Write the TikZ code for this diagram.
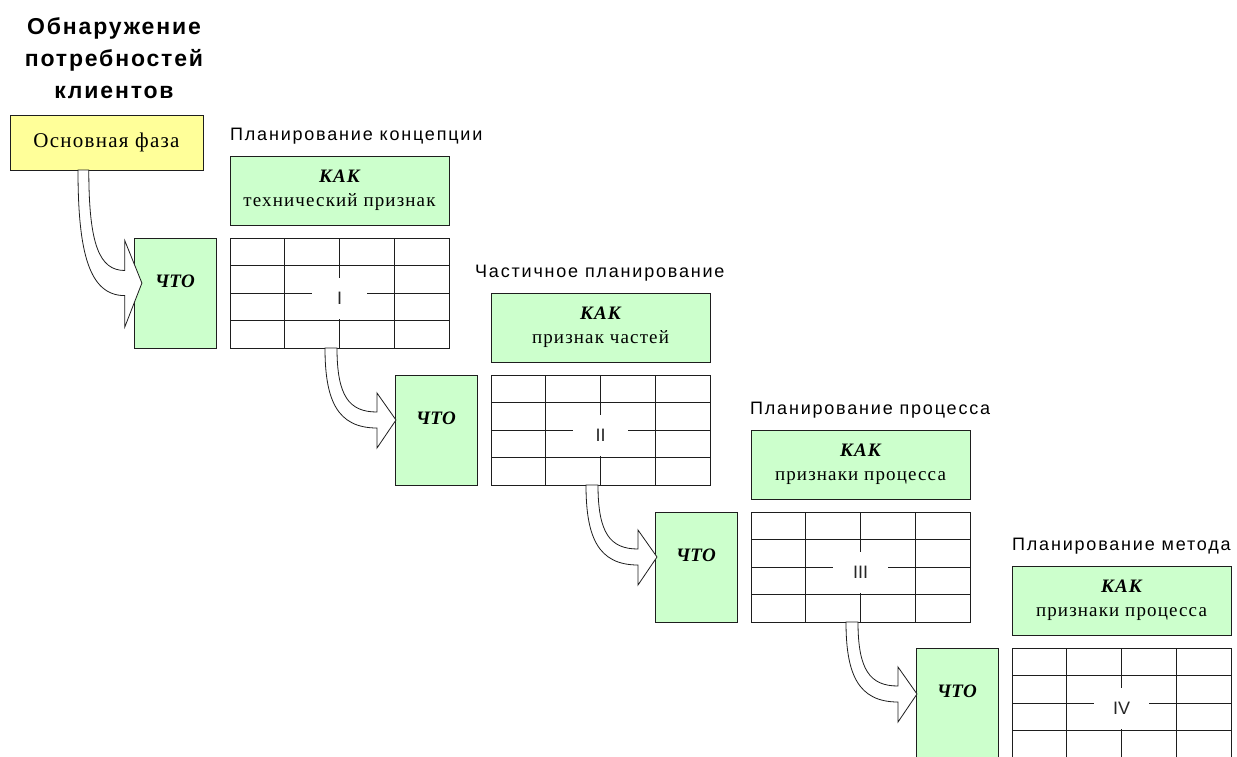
\documentclass[tikz,border=0pt]{standalone}
\usepackage{fontspec}
\setmainfont{Liberation Serif}
\setsansfont{Liberation Sans}
\newfontfamily\headfont[LetterSpace=10]{Liberation Sans}
\newfontfamily\titlefont[LetterSpace=8]{Liberation Sans}
\newfontfamily\boxfont[LetterSpace=6]{Liberation Serif}
\newcommand{\kakfont}{\fontsize{19}{24}\selectfont\bfseries\itshape}
\usetikzlibrary{positioning}

\definecolor{howgreen}{RGB}{204,255,204}
\definecolor{phaseyellow}{RGB}{255,255,153}
\definecolor{edge}{RGB}{30,30,30}

\tikzset{
  box/.style={draw=edge, line width=1pt, inner sep=0pt, outer sep=0pt, align=center},
  how/.style={box, fill=howgreen, minimum width=219pt, minimum height=69pt,
    font=\boxfont\fontsize{19}{24}\selectfont},
  what/.style={box, fill=howgreen, minimum width=82pt, minimum height=110pt,
    text height=13pt, text depth=24pt, font=\fontsize{19}{19}\selectfont\bfseries\itshape},
  chart/.style={box, minimum width=219pt, minimum height=110pt,
    path picture={\foreach \k in {-1,0,1} {
      \draw[line width=1pt, edge] ([xshift=\k*54.75pt]path picture bounding box.north)
        -- ([xshift=\k*54.75pt]path picture bounding box.south);
      \draw[line width=1pt, edge] ([yshift=\k*27.5pt]path picture bounding box.west)
        -- ([yshift=\k*27.5pt]path picture bounding box.east);}}},
  num/.style={fill=white, inner sep=0pt, minimum width=55pt, minimum height=41pt,
    yshift=-5pt, text=black!85, font=\sffamily\fontsize{18}{18}\selectfont},
  stage/.style={anchor=base west, inner sep=0pt, font=\headfont\fontsize{18}{18}\selectfont},
  turn/.pic={
    \draw[edge, line width=0.8pt, fill=white] (0,0) -- (12,0)
      .. controls (12,48) and (24,64) .. (52,64) -- (52,45) -- (71,72)
      -- (52,100) -- (52,80) .. controls (12,80) and (0,52) .. (0,0) -- cycle;
  }
}

\begin{document}
\begin{tikzpicture}[x=1pt, y=-1pt]
\useasboundingbox (0,0) rectangle (1237,756);

% base phase
\node[align=center, font=\titlefont\bfseries\fontsize{23}{32}\selectfont] (need) at (114,58) {Обнаружение\\потребностей\\клиентов};
\node[box, fill=phaseyellow, minimum width=193pt, minimum height=55pt,
  font=\boxfont\fontsize{21}{21}\selectfont] (base) at (106.5,142.5) {Основная фаза};

% I
\node[stage] (plan1) at (230,140) {Планирование концепции};
\node[how] (how1) at (339.5,190.5) {{\kakfont КАК}\\технический признак};
\node[chart, below=13pt of how1] (grid1) {};
\node[what, left=14pt of grid1] (what1) {ЧТО};
\node[num] (n1) at (grid1) {I};

% II
\node[stage] (plan2) at (475,277) {Частичное планирование};
\node[how] (how2) at (600.5,327.5) {{\kakfont КАК}\\признак частей};
\node[chart, below=13pt of how2] (grid2) {};
\node[what, left=14pt of grid2] (what2) {ЧТО};
\node[num] (n2) at (grid2) {II};

% III
\node[stage] (plan3) at (750,414) {Планирование процесса};
\node[how] (how3) at (860.5,464.5) {{\kakfont КАК}\\признаки процесса};
\node[chart, below=13pt of how3] (grid3) {};
\node[what, left=14pt of grid3] (what3) {ЧТО};
\node[num] (n3) at (grid3) {III};

% IV
\node[stage] (plan4) at (1012,550) {Планирование метода};
\node[how] (how4) at (1121.5,600.5) {{\kakfont КАК}\\признаки процесса};
\node[chart, below=13pt of how4] (grid4) {};
\node[what, left=14pt of grid4] (what4) {ЧТО};
\node[num] (n4) at (grid4) {IV};

% arrows
\pic[xscale=0.9, yscale=1.57] at ([xshift=68pt]base.south west) {turn};
\pic at ([xshift=95pt]grid1.south west) {turn};
\pic at ([xshift=95pt]grid2.south west) {turn};
\pic at ([xshift=95pt]grid3.south west) {turn};
\end{tikzpicture}
\end{document}
